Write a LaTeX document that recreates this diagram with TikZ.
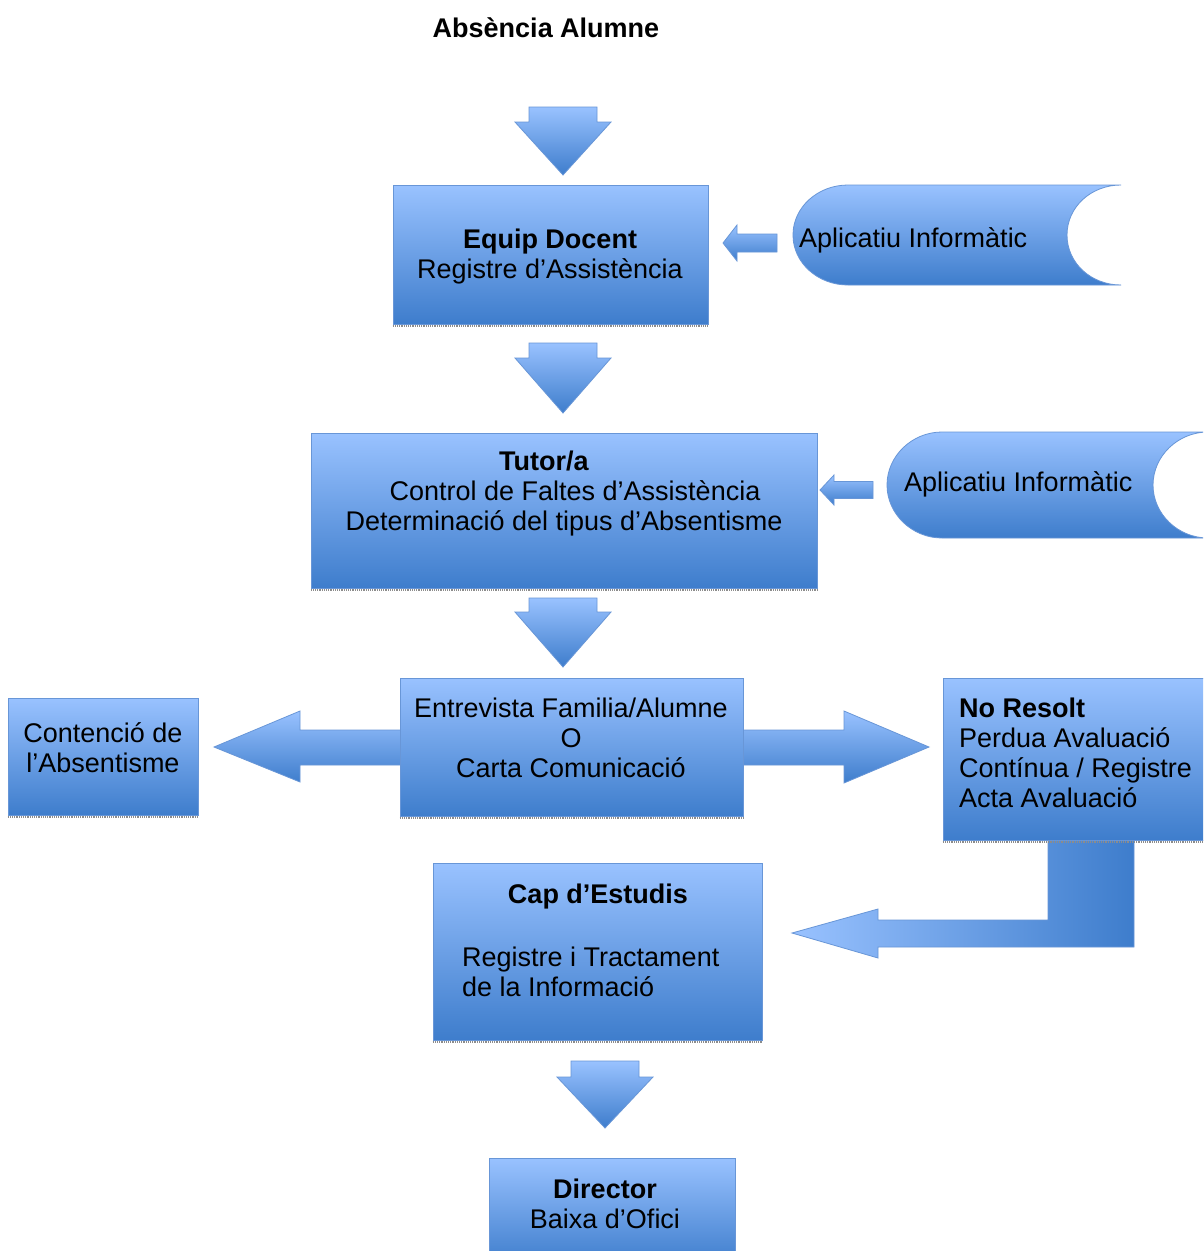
\documentclass[tikz,border=0pt]{standalone}
\usepackage{fontspec}
\setmainfont{Liberation Sans}
\definecolor{lb}{RGB}{153,194,255}
\definecolor{db}{RGB}{62,125,204}
\definecolor{bc}{RGB}{104,150,215}
\newcommand\bdown[4]{%
  \path[barrow] (#1-34,#2) -- (#1+34,#2) -- (#1+34,#3) -- (#1+48,#3) -- (#1,#4)
    -- (#1-48,#3) -- (#1-34,#3) -- cycle;}
\begin{document}
\begin{tikzpicture}[x=1pt,y=-1pt,
  box/.style={rectangle, draw=bc, line width=0.8pt, top color=lb, bottom color=db, inner sep=0pt},
  txt/.style={font=\fontsize{27}{30}\selectfont, align=center, inner sep=0pt, text=black},
  barrow/.style={draw=bc, line width=0.8pt, top color=lb, bottom color=db},
  harrow/.style={draw=bc, line width=0.8pt, left color=lb, right color=db},
  shad/.style={draw=black!45, densely dotted, line width=1.2pt}]
\path[use as bounding box, clip] (0,0) rectangle (1203,1251);
\fill[white] (0,0) rectangle (1203,1251);

% title
\node[txt, font=\fontsize{27}{30}\selectfont\bfseries] (title) at (546,28) {Absència Alumne};

% down arrows
\bdown{563}{107}{122}{175}
\bdown{563}{343}{358}{413}
\bdown{563}{598}{612}{667}
\bdown{605}{1061}{1077}{1128}

% Equip Docent
\node[box, minimum width=315, minimum height=139] (ed) at (550.5,254.5) {};
\node[txt] (edt) at (550,257) {\textbf{Equip Docent}\\Registre d’Assistència};

% Aplicatiu 1
\path[barrow] (848,185) -- (1121,185) .. controls (1091,185) and (1067,207) .. (1067,235)
  .. controls (1067,263) and (1091,285) .. (1121,285) -- (848,285)
  .. controls (818,285) and (793,263) .. (793,235) .. controls (793,207) and (818,185) .. (848,185) -- cycle;
\node[txt, anchor=west] (ap1) at (799,240) {Aplicatiu Informàtic};
\path[barrow] (777,234) -- (737,234) -- (737,225) -- (723,243) -- (737,261) -- (737,252) -- (777,252) -- cycle;

% Tutor
\node[box, minimum width=506, minimum height=155] (tut) at (564,510.5) {};
\node[txt] (tutt) at (564,494) {\textbf{Tutor/a}\hspace*{40pt}\mbox{}\\\mbox{}\hspace*{22pt}Control de Faltes d’Assistència\\Determinació del tipus d’Absentisme};

% Aplicatiu 2
\path[barrow] (942,432) -- (1208,432) .. controls (1178,432) and (1153,456) .. (1153,485)
  .. controls (1153,514) and (1178,538) .. (1208,538) -- (942,538)
  .. controls (912,538) and (887,514) .. (887,485) .. controls (887,456) and (912,432) .. (942,432) -- cycle;
\node[txt, anchor=west] (ap2) at (904,484) {Aplicatiu Informàtic};
\path[barrow] (873,481.5) -- (834,481.5) -- (834,475) -- (820,490) -- (834,505) -- (834,498.5) -- (873,498.5) -- cycle;

% double arrow
\path[barrow] (214,747) -- (300,711) -- (300,730) -- (844,730) -- (844,711) -- (929,747)
  -- (844,783) -- (844,765) -- (300,765) -- (300,782) -- cycle;

% Entrevista
\node[box, minimum width=343, minimum height=138] (ent) at (571.5,747) {};
\node[txt] (entt) at (571,738) {Entrevista Familia/Alumne\\O\\Carta Comunicació};

% Contencio
\node[box, minimum width=190, minimum height=117] (con) at (103,756.5) {};
\node[txt] (cont) at (103,748) {Contenció de\\l’Absentisme};

% L arrow
\path[harrow] (1134,840) -- (1134,947) -- (878,947) -- (878,958) -- (792,933) -- (878,909)
  -- (878,920) -- (1048,920) -- (1048,840) -- cycle;

% No Resolt
\node[box, minimum width=267, minimum height=162] (nor) at (1076.5,759) {};
\node[txt, anchor=west, align=left] (nort) at (959,752.5) {\textbf{No Resolt}\\Perdua Avaluació\\Contínua / Registre\\Acta Avaluació};

% Cap d'Estudis
\node[box, minimum width=329, minimum height=177] (cap) at (597.5,951.5) {};
\node[txt] (capt) at (598,897) {\textbf{Cap d’Estudis}};
\node[txt, anchor=west, align=left] (capb) at (462,972) {Registre i Tractament\\de la Informació};

% Director
\node[box, minimum width=246, minimum height=107] (dir) at (612,1211.5) {};
\node[txt] (dirt) at (605,1204) {\textbf{Director}\\Baixa d’Ofici};

\foreach \n in {ed,tut,ent,con,nor,cap}
  \draw[shad] ([yshift=-1.5pt]\n.south west) -- ([yshift=-1.5pt]\n.south east);
\end{tikzpicture}
\end{document}
